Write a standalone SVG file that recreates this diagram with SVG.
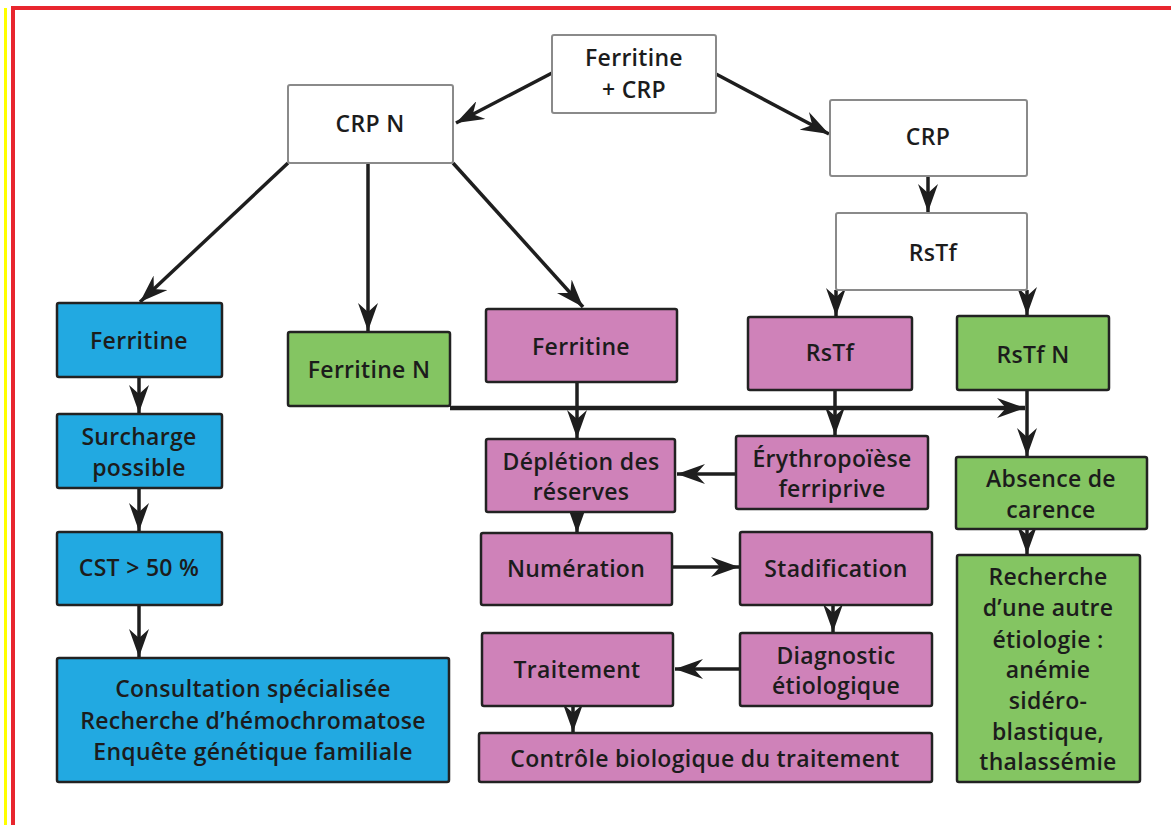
<svg xmlns="http://www.w3.org/2000/svg" width="1171" height="825" viewBox="0 0 1171 825">
<style>
text{font-family:"Open Sans","Liberation Sans",sans-serif;font-size:23px;font-weight:600;letter-spacing:0.3px;fill:#1c1c1c;text-anchor:middle}
.w{fill:#fff;stroke:#8a8a8a;stroke-width:2}
.b{fill:#22a9e1;stroke:#222;stroke-width:2.5}
.g{fill:#84c562;stroke:#222;stroke-width:2.5}
.p{fill:#cf82b9;stroke:#222;stroke-width:2.5}
.c{stroke:#1e1e1e;stroke-width:3.5;fill:none}
.cw{stroke:#8a8a8a;stroke-width:2;fill:none}
</style>
<defs>
<marker id="a" viewBox="0 0 28 20" refX="28" refY="10" markerWidth="28" markerHeight="20" markerUnits="userSpaceOnUse" orient="auto">
<path d="M0,0 L28,10 L0,20 L9,10 Z" fill="#1e1e1e"/>
</marker>
</defs>
<rect width="1171" height="825" fill="#fff"/>
<rect x="4" y="8" width="3" height="817" fill="#ffff00"/>
<rect x="11" y="6" width="4" height="819" fill="#e8262e"/>
<rect x="11" y="6" width="1160" height="4" fill="#e8262e"/>

<g id="connectors">
<line class="c" x1="552" y1="73" x2="456" y2="123" marker-end="url(#a)"/>
<line class="c" x1="716" y1="74" x2="829" y2="134" marker-end="url(#a)"/>
<line class="c" x1="928" y1="176" x2="928" y2="212" marker-end="url(#a)"/>
<line class="cw" x1="836" y1="290" x2="1027" y2="290"/>
<line class="c" x1="836" y1="290" x2="836" y2="316" marker-end="url(#a)"/>
<line class="c" x1="1027" y1="290" x2="1027" y2="315" marker-end="url(#a)"/>
<line class="c" x1="288" y1="163" x2="140" y2="302" marker-end="url(#a)"/>
<line class="c" x1="368" y1="163" x2="368" y2="331" marker-end="url(#a)"/>
<line class="c" x1="453" y1="163" x2="583" y2="307" marker-end="url(#a)"/>
<line class="c" x1="139" y1="377" x2="139" y2="413" marker-end="url(#a)"/>
<line class="c" x1="139" y1="488" x2="139" y2="531" marker-end="url(#a)"/>
<line class="c" x1="139" y1="605" x2="139" y2="657" marker-end="url(#a)"/>
<line class="c" style="stroke-width:4.5" x1="450" y1="408" x2="1025" y2="408" marker-end="url(#a)"/>
<line class="c" x1="1027" y1="390" x2="1027" y2="456" marker-end="url(#a)"/>
<line class="c" x1="577" y1="382" x2="577" y2="438" marker-end="url(#a)"/>
<line class="c" x1="835" y1="390" x2="835" y2="435" marker-end="url(#a)"/>
<line class="c" x1="736" y1="474" x2="677" y2="474" marker-end="url(#a)"/>
<line class="c" x1="577" y1="508" x2="577" y2="533" marker-end="url(#a)"/>
<line class="c" x1="672" y1="567" x2="739" y2="567" marker-end="url(#a)"/>
<line class="c" x1="833" y1="604" x2="833" y2="632" marker-end="url(#a)"/>
<line class="c" x1="740" y1="669" x2="675" y2="669" marker-end="url(#a)"/>
<line class="c" x1="573" y1="704" x2="573" y2="732" marker-end="url(#a)"/>
<line class="c" x1="1027" y1="526" x2="1027" y2="554" marker-end="url(#a)"/>
</g>

<g id="n-ferritine-crp"><rect class="w" x="552" y="35" width="164" height="78" rx="2"/><text x="634" y="66">Ferritine</text><text x="634" y="98">+ CRP</text></g>
<g id="n-crpn"><rect class="w" x="288" y="85" width="165" height="78" rx="2"/><text x="370" y="132">CRP N</text></g>
<g id="n-crp"><rect class="w" x="830" y="100" width="197" height="76" rx="2"/><text x="928" y="145">CRP</text></g>
<g id="n-rstf"><rect class="w" x="836" y="213" width="191" height="77" rx="2"/><text x="933" y="261">RsTf</text></g>

<g id="n-ferritine-b"><rect class="b" x="57" y="303" width="165" height="74" rx="2"/><text x="139" y="349">Ferritine</text></g>
<g id="n-surcharge"><rect class="b" x="57" y="414" width="165" height="74" rx="2"/><text x="139" y="445">Surcharge</text><text x="139" y="476">possible</text></g>
<g id="n-cst"><rect class="b" x="57" y="532" width="165" height="73" rx="2"/><text x="139" y="576">CST &gt; 50 %</text></g>
<g id="n-consult"><rect class="b" x="57" y="658" width="392" height="124" rx="2"/><text x="253" y="697">Consultation spécialisée</text><text x="253" y="729">Recherche d’hémochromatose</text><text x="253" y="760">Enquête génétique familiale</text></g>

<g id="n-ferritine-n"><rect class="g" x="288" y="332" width="162" height="74" rx="2"/><text x="369" y="378">Ferritine N</text></g>

<g id="n-ferritine-p"><rect class="p" x="486" y="309" width="191" height="73" rx="2"/><text x="581" y="355">Ferritine</text></g>
<g id="n-rstf-p"><rect class="p" x="748" y="317" width="164" height="73" rx="2"/><text x="830" y="361">RsTf</text></g>
<g id="n-depletion"><rect class="p" x="486" y="439" width="189" height="73" rx="2"/><text x="581" y="470">Déplétion des</text><text x="581" y="500">réserves</text></g>
<g id="n-erythro"><rect class="p" x="736" y="436" width="192" height="73" rx="2"/><text x="832" y="467">Érythropoïèse</text><text x="832" y="497">ferriprive</text></g>
<g id="n-numeration"><rect class="p" x="481" y="533" width="191" height="72" rx="2"/><text x="576" y="577">Numération</text></g>
<g id="n-stadification"><rect class="p" x="740" y="532" width="192" height="73" rx="2"/><text x="836" y="577">Stadification</text></g>
<g id="n-diagnostic"><rect class="p" x="740" y="633" width="192" height="73" rx="2"/><text x="836" y="664">Diagnostic</text><text x="836" y="694">étiologique</text></g>
<g id="n-traitement"><rect class="p" x="482" y="633" width="191" height="73" rx="2"/><text x="577" y="678">Traitement</text></g>
<g id="n-controle"><rect class="p" x="479" y="733" width="453" height="49" rx="2"/><text x="705" y="767">Contrôle biologique du traitement</text></g>

<g id="n-rstf-n"><rect class="g" x="957" y="316" width="152" height="74" rx="2"/><text x="1033" y="363">RsTf N</text></g>
<g id="n-absence"><rect class="g" x="956" y="457" width="191" height="72" rx="2"/><text x="1051" y="487">Absence de</text><text x="1051" y="518">carence</text></g>
<g id="n-recherche"><rect class="g" x="957" y="555" width="183" height="227" rx="2"/><text x="1048" y="585">Recherche</text><text x="1048" y="616">d’une autre</text><text x="1048" y="648">étiologie :</text><text x="1048" y="678">anémie</text><text x="1048" y="709">sidéro-</text><text x="1048" y="740">blastique,</text><text x="1048" y="770">thalassémie</text></g>
</svg>
